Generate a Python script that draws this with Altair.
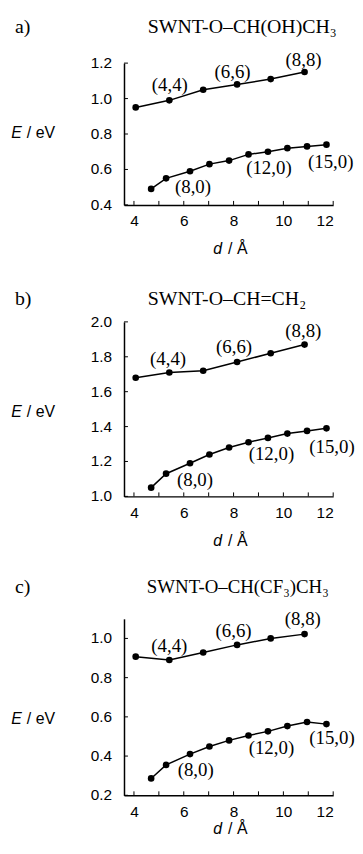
import altair as alt
import pandas as pd

# ---- data ----
d_armchair = [4.07, 5.42, 6.78, 8.14, 9.49, 10.85]
d_zigzag = [4.69, 5.29, 6.25, 7.03, 7.82, 8.60, 9.38, 10.16, 10.95, 11.73]

a_arm = [0.95, 0.99, 1.05, 1.08, 1.11, 1.15]
a_zig = [0.49, 0.55, 0.59, 0.63, 0.65, 0.685, 0.70, 0.72, 0.73, 0.74]
b_arm = [1.68, 1.71, 1.72, 1.77, 1.82, 1.87]
b_zig = [1.05, 1.13, 1.19, 1.24, 1.28, 1.31, 1.335, 1.36, 1.375, 1.39]
c_arm = [0.907, 0.89, 0.928, 0.967, 1.0, 1.022]
c_zig = [0.286, 0.355, 0.41, 0.449, 0.48, 0.505, 0.526, 0.553, 0.574, 0.563]

tube_labels = ["(4,4)", "(6,6)", "(8,8)", "(8,0)", "(12,0)", "(15,0)"]
a_lab_x = [5.44, 7.96, 10.81, 6.37, 9.42, 11.9]
a_lab_y = [1.075, 1.15, 1.22, 0.50, 0.61, 0.64]
b_lab_x = [5.37, 8.02, 10.80, 6.45, 9.52, 11.95]
b_lab_y = [1.785, 1.853, 1.948, 1.095, 1.24, 1.285]
c_lab_x = [5.42, 8.0, 10.78, 6.48, 9.52, 11.95]
c_lab_y = [0.961, 1.039, 1.098, 0.33, 0.44, 0.49]

panel_letters = ["a)", "b)", "c)"]
panel_titles = ["SWNT-O\u2013CH(OH)CH\u2083", "SWNT-O\u2013CH=CH\u2082", "SWNT-O\u2013CH(CF\u2083)CH\u2083"]
y_domains = [[0.4, 1.2], [1.0, 2.0], [0.2, 1.1]]
y_ticks = [[0.4, 0.6, 0.8, 1.0, 1.2], [1.0, 1.2, 1.4, 1.6, 1.8, 2.0], [0.2, 0.4, 0.6, 0.8, 1.0]]
x_label_vals = [4, 6, 8, 10, 12]
x_tick_vals = [4, 5, 6, 7, 8, 9, 10, 11, 12]
x_domain = [3.6, 12]

SERIF = "Liberation Serif"
SANS = "Liberation Sans"
W = 211
heights = [143, 176, 178]
title_base = [-30.5, -17.5, -26.5]   # title baseline relative to plot top
title_size = [20, 20, 19]
title_x = [24, 24, 23]
ylabel_dy = [71, 91, 101]
xlabel_dy = [45, 45.5, 34]


def panel(i, arm, zig, lab_x, lab_y):
    H = heights[i]
    rows = [{"d": d, "E": e, "s": "armchair"} for d, e in zip(d_armchair, arm)] + \
           [{"d": d, "E": e, "s": "zigzag"} for d, e in zip(d_zigzag, zig)]
    df = pd.DataFrame(rows)
    xs = alt.Scale(domain=x_domain, nice=False, zero=False)
    ys = alt.Scale(domain=y_domains[i], nice=False, zero=False)
    xax = alt.Axis(values=x_label_vals, ticks=False, grid=False, title=None,
                   labelFont=SANS, labelFontSize=15.5, labelColor="black", labelOverlap=False,
                   labelPadding=9, domainColor="black", domainWidth=1.5)
    yax = alt.Axis(labels=False, ticks=False, grid=False, title=None,
                   domainColor="black", domainWidth=1.5)
    base = alt.Chart(df)
    line = base.mark_line(color="black", strokeWidth=1.5).encode(
        x=alt.X("d:Q", scale=xs, axis=xax),
        y=alt.Y("E:Q", scale=ys, axis=yax),
        detail="s:N",
    )
    pts = base.mark_point(filled=True, color="black", opacity=1, size=45).encode(
        x=alt.X("d:Q", scale=xs), y=alt.Y("E:Q", scale=ys))

    ldf = pd.DataFrame({"t": tube_labels, "x": lab_x, "y": lab_y})
    labels = alt.Chart(ldf).mark_text(font=SERIF, fontSize=19, color="black").encode(
        x=alt.X("x:Q", scale=xs), y=alt.Y("y:Q", scale=ys), text="t:N")

    xt = alt.Chart(pd.DataFrame({"v": x_tick_vals})).mark_rule(color="black", strokeWidth=1).encode(
        x=alt.X("v:Q", scale=xs), y=alt.value(H), y2=alt.value(H - 4))

    ytdf = pd.DataFrame({"v": y_ticks[i], "lab": [f"{v:.1f}" for v in y_ticks[i]]})
    yt = alt.Chart(ytdf).mark_rule(color="black", strokeWidth=1).encode(
        y=alt.Y("v:Q", scale=ys), x=alt.value(0), x2=alt.value(4))
    ylab = alt.Chart(ytdf).mark_text(font=SANS, fontSize=15.5, align="right", baseline="middle",
                                     color="black").encode(
        y=alt.Y("v:Q", scale=ys), x=alt.value(-12), text="lab:N")

    letter = alt.Chart(pd.DataFrame({"t": [panel_letters[i]]})).mark_text(
        font=SERIF, fontSize=20, align="left", baseline="alphabetic", color="black").encode(
        x=alt.value(-110), y=alt.value(title_base[i]), text="t:N")
    ttl = alt.Chart(pd.DataFrame({"t": [panel_titles[i]]})).mark_text(
        font=SERIF, fontSize=title_size[i], align="left", baseline="alphabetic", color="black").encode(
        x=alt.value(title_x[i]), y=alt.value(title_base[i]), text="t:N")

    e1 = alt.Chart(pd.DataFrame({"t": ["E"]})).mark_text(
        font=SANS, fontSize=16, fontStyle="italic", align="right", baseline="middle", color="black").encode(
        x=alt.value(-103), y=alt.value(ylabel_dy[i]), text="t:N")
    e2 = alt.Chart(pd.DataFrame({"t": ["/ eV"]})).mark_text(
        font=SANS, fontSize=16, align="left", baseline="middle", color="black").encode(
        x=alt.value(-98), y=alt.value(ylabel_dy[i]), text="t:N")
    d1 = alt.Chart(pd.DataFrame({"t": ["d"]})).mark_text(
        font=SANS, fontSize=16, fontStyle="italic", align="right", baseline="middle", color="black").encode(
        x=alt.value(99), y=alt.value(H + xlabel_dy[i]), text="t:N")
    d2 = alt.Chart(pd.DataFrame({"t": ["/ \u00c5"]})).mark_text(
        font=SANS, fontSize=16, align="left", baseline="middle", color="black").encode(
        x=alt.value(105), y=alt.value(H + xlabel_dy[i]), text="t:N")

    return alt.layer(line, pts, labels, xt, yt, ylab, letter, ttl, e1, e2, d1, d2).properties(
        width=W, height=H)


pa = panel(0, a_arm, a_zig, a_lab_x, a_lab_y)
pb = panel(1, b_arm, b_zig, b_lab_x, b_lab_y)
pc = panel(2, c_arm, c_zig, c_lab_x, c_lab_y)

lower = alt.vconcat(pb, pc, spacing=123.5, bounds="flush")
chart = alt.vconcat(pa, lower, spacing=118, bounds="flush").properties(
    padding={"left": 3, "top": 5, "right": 0, "bottom": 0}
).configure_view(stroke=None)

chart.save("out.html", embed_options={"renderer": "svg", "actions": False})
